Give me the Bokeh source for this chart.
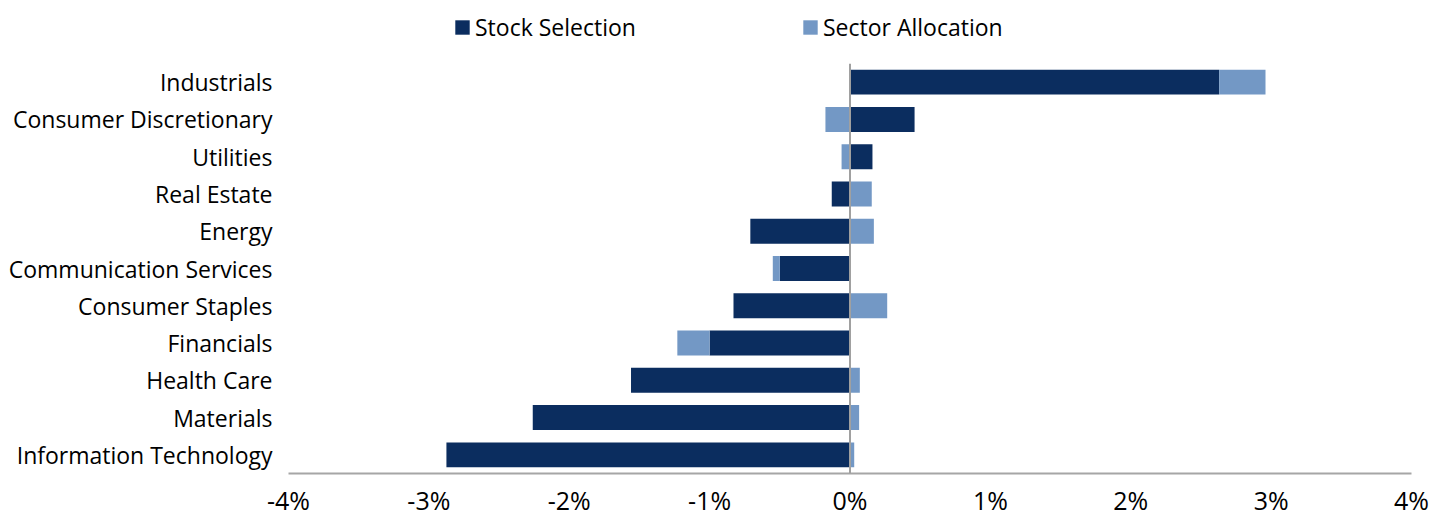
from bokeh.plotting import figure
from bokeh.layouts import column
from bokeh.models import Range1d, FactorRange, FixedTicker, Span, Legend, LegendItem, ColumnDataSource
from bokeh.embed import file_html
from bokeh.resources import INLINE

categories = ["Industrials", "Consumer Discretionary", "Utilities", "Real Estate", "Energy",
              "Communication Services", "Consumer Staples", "Financials", "Health Care",
              "Materials", "Information Technology"]
stock_selection = [2.63, 0.46, 0.16, -0.13, -0.71, -0.50, -0.83, -1.00, -1.56, -2.26, -2.875]
sector_allocation = [0.33, -0.175, -0.06, 0.155, 0.17, -0.05, 0.265, -0.23, 0.07, 0.065, 0.03]
series_names = ["Stock Selection", "Sector Allocation"]
tick_values = [-4, -3, -2, -1, 0, 1, 2, 3, 4]
tick_labels = ["-4%", "-3%", "-2%", "-1%", "0%", "1%", "2%", "3%", "4%"]

DARK = "#0B2D5F"
LIGHT = "#7398C5"
FONT = "Open Sans"

# diverging stack: positives to the right, negatives to the left
s_left, s_right, a_left, a_right = [], [], [], []
for s, a in zip(stock_selection, sector_allocation):
    pos, neg = 0.0, 0.0
    if s >= 0:
        s_left.append(pos); s_right.append(pos + s); pos += s
    else:
        s_left.append(neg + s); s_right.append(neg); neg += s
    if a >= 0:
        a_left.append(pos); a_right.append(pos + a); pos += a
    else:
        a_left.append(neg + a); a_right.append(neg); neg += a

src = ColumnDataSource(dict(cat=categories, sl=s_left, sr=s_right, al=a_left, ar=a_right))

# ---- legend strip on top (its frame is aligned with the chart frame below) ----
lg = figure(width=1450, height=63, output_backend="svg", toolbar_location=None,
            x_range=Range1d(0, 1), y_range=Range1d(0, 1),
            min_border_left=288, min_border_right=39, min_border_top=0, min_border_bottom=0)
lg.axis.visible = False
lg.grid.visible = False
lg.outline_line_color = None
# off-range placeholders, only used to provide the legend swatches
d1 = lg.hbar(y=[-9], left=[-9], right=[-8], height=0.5, fill_color=DARK, line_color=None)
d2 = lg.hbar(y=[-9], left=[-9], right=[-8], height=0.5, fill_color=LIGHT, line_color=None)
legend = Legend(items=[LegendItem(label=series_names[0], renderers=[d1]),
                       LegendItem(label=series_names[1], renderers=[d2])],
                orientation="horizontal", location=(165, 20),
                glyph_width=18, glyph_height=18, label_standoff=4, label_width=326,
                spacing=0, padding=0, margin=0,
                border_line_color=None, background_fill_alpha=0,
                label_text_font=FONT, label_text_font_size="23px", label_text_color="#000000")
lg.add_layout(legend, "center")

# ---- main chart ----
p = figure(width=1450, height=456, output_backend="svg", toolbar_location=None,
           y_range=FactorRange(factors=list(reversed(categories))),
           x_range=Range1d(-4, 4),
           min_border_left=288, min_border_right=39, min_border_top=0, min_border_bottom=46)

p.hbar(y="cat", left="sl", right="sr", height=0.67, source=src, fill_color=DARK, line_color=None)
p.hbar(y="cat", left="al", right="ar", height=0.67, source=src, fill_color=LIGHT, line_color=None)

p.add_layout(Span(location=0, dimension="height", line_color="#A0A0A0", line_width=2))

p.xgrid.visible = False
p.ygrid.visible = False
p.outline_line_color = None

xa = p.xaxis[0]
xa.ticker = FixedTicker(ticks=tick_values)
xa.major_label_overrides = {v: l for v, l in zip(tick_values, tick_labels)}
xa.axis_line_color = "#A6A6A6"
xa.axis_line_width = 2
xa.major_tick_line_color = None
xa.minor_tick_line_color = None
xa.major_label_text_font = FONT
xa.major_label_text_font_size = "25px"
xa.major_label_text_color = "#000000"
xa.major_label_standoff = 3

ya = p.yaxis[0]
ya.axis_line_color = None
ya.major_tick_line_color = None
ya.minor_tick_line_color = None
ya.major_label_text_font = FONT
ya.major_label_text_font_size = "23px"
ya.major_label_text_color = "#000000"
ya.major_label_standoff = 10

layout = column(lg, p, spacing=0)
open("out.html", "w").write(file_html(layout, INLINE))
